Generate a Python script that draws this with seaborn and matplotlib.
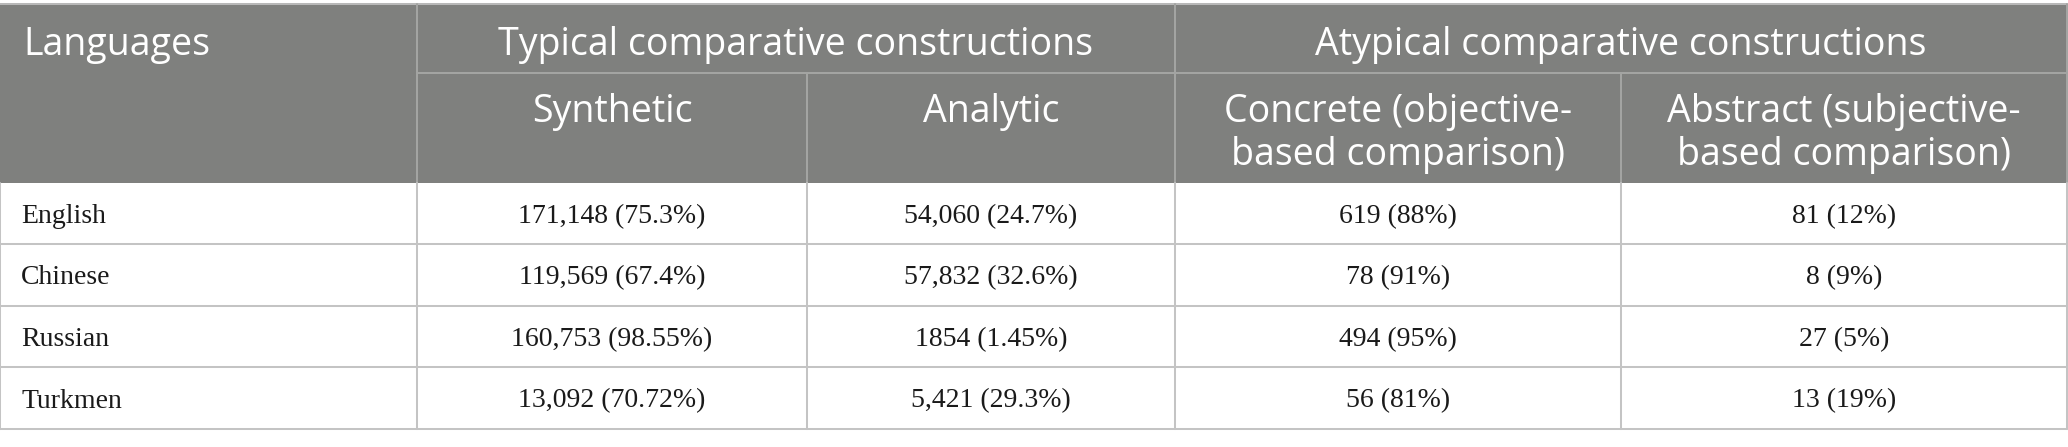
import matplotlib
matplotlib.use("Agg")
import matplotlib.pyplot as plt
from matplotlib.patches import Rectangle
import seaborn as sns

# table content
languages = ["English", "Chinese", "Russian", "Turkmen"]
synthetic = ["171,148 (75.3%)", "119,569 (67.4%)", "160,753 (98.55%)", "13,092 (70.72%)"]
analytic = ["54,060 (24.7%)", "57,832 (32.6%)", "1854 (1.45%)", "5,421 (29.3%)"]
concrete = ["619 (88%)", "78 (91%)", "494 (95%)", "56 (81%)"]
abstract = ["81 (12%)", "8 (9%)", "27 (5%)", "13 (19%)"]

group_labels = ["Typical comparative constructions", "Atypical comparative constructions"]
sub_labels = ["Synthetic", "Analytic",
              "Concrete (objective-\nbased comparison)",
              "Abstract (subjective-\nbased comparison)"]
first_header = "Languages"

sns.set_theme(style="white")

HEAD_BG = "#7f807e"
HEAD_LINE = "#a3a4a2"
BODY_LINE = "#c4c4c4"
SANS = ["Open Sans", "DejaVu Sans"]
SERIF = ["Liberation Serif", "DejaVu Serif"]

W, H = 2068, 447
col_edges = [0, 417, 807, 1175, 1621, 2067]
top, head_mid, head_bot = 4, 73, 183
row_edges = [183, 244, 306, 367, 429]
lw = 1.45

fig = plt.figure(figsize=(W / 100, H / 100), dpi=100)
ax = fig.add_axes([0, 0, 1, 1])
ax.set_xlim(0, W)
ax.set_ylim(H, 0)
ax.axis("off")

# header block
ax.add_patch(Rectangle((0, top), col_edges[-1], head_bot - top, color=HEAD_BG, lw=0, zorder=1))
ax.plot([0, col_edges[-1]], [top, top], color="#b8b8b8", lw=lw, zorder=2)
ax.plot([col_edges[1], col_edges[-1]], [head_mid, head_mid], color=HEAD_LINE, lw=lw, zorder=2)
for x in (col_edges[1], col_edges[3]):
    ax.plot([x, x], [top, head_bot], color=HEAD_LINE, lw=lw, zorder=2)
for x in (col_edges[2], col_edges[4]):
    ax.plot([x, x], [head_mid, head_bot], color=HEAD_LINE, lw=lw, zorder=2)
ax.plot([col_edges[-1], col_edges[-1]], [top, head_bot], color=HEAD_LINE, lw=lw, zorder=2)

# body grid
for y in row_edges[1:]:
    ax.plot([0, col_edges[-1]], [y, y], color=BODY_LINE, lw=lw, zorder=2)
for x in col_edges:
    ax.plot([x, x], [head_bot, row_edges[-1]], color=BODY_LINE, lw=lw, zorder=2)

# header text
hfs = 27
ax.text(23, 40, first_header, color="white", fontsize=hfs, family=SANS,
        ha="left", va="center_baseline", zorder=3)
for i, lab in enumerate(group_labels):
    cx = (col_edges[1 + 2 * i] + col_edges[3 + 2 * i]) / 2
    ax.text(cx, 40, lab, color="white", fontsize=hfs, family=SANS,
            ha="center", va="center_baseline", zorder=3)
for i, lab in enumerate(sub_labels):
    cx = (col_edges[1 + i] + col_edges[2 + i]) / 2
    ax.text(cx, 93, lab, color="white", fontsize=hfs, family=SANS,
            ha="center", va="top", linespacing=1.16, zorder=3)

# body text
columns = [synthetic, analytic, concrete, abstract]
bfs = 20
for r, lang in enumerate(languages):
    cy = (row_edges[r] + row_edges[r + 1]) / 2 + 3
    ax.text(21, cy, lang, color="#1a1a1a", fontsize=bfs, family=SERIF,
            ha="left", va="center", zorder=3)
    for c, vals in enumerate(columns):
        cx = (col_edges[1 + c] + col_edges[2 + c]) / 2
        ax.text(cx, cy, vals[r], color="#1a1a1a", fontsize=bfs, family=SERIF,
                ha="center", va="center", zorder=3)

fig.savefig("out.png", dpi=100, facecolor="white")
